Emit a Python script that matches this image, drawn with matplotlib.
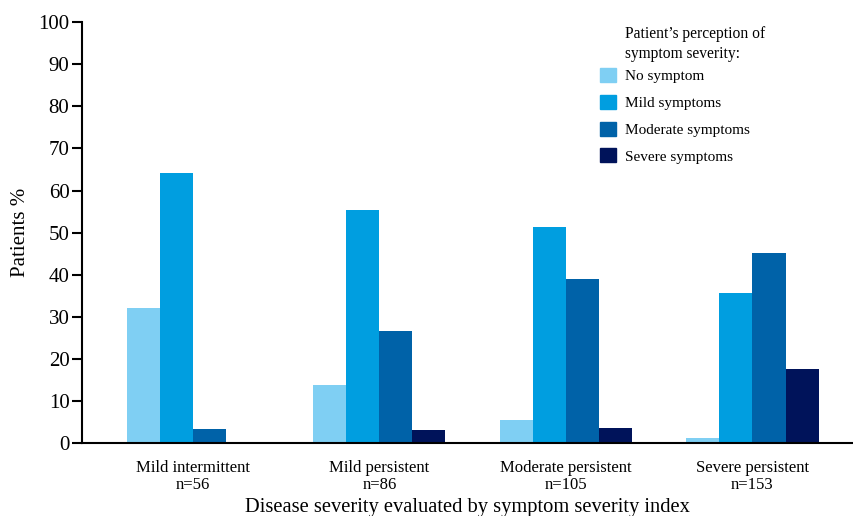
import numpy as np
from matplotlib import pyplot as plt
from matplotlib.patches import Patch

plt.rcParams['font.family'] = ['Liberation Serif', 'DejaVu Serif']

groups = ["Mild intermittent\nn=56", "Mild persistent\nn=86",
          "Moderate persistent\nn=105", "Severe persistent\nn=153"]
series = ["No symptom", "Mild symptoms", "Moderate symptoms", "Severe symptoms"]
no_symptom = [32.1, 13.8, 5.5, 1.2]
mild = [64.1, 55.3, 51.3, 35.6]
moderate = [3.3, 26.6, 39.0, 45.1]
severe = [0.0, 3.1, 3.6, 17.6]
colors = ["#7fcff3", "#009ee0", "#0062a8", "#00135a"]

fig = plt.figure(figsize=(8.54, 5.16), dpi=100)
ax = fig.add_axes([0.096, 0.1415, 0.902, 0.8155])

x = np.arange(len(groups))
w = 0.177
values = [no_symptom, mild, moderate, severe]
for i, (vals, c) in enumerate(zip(values, colors)):
    ax.bar(x + (i - 1.5) * w, vals, w, color=c, label=series[i])

ax.set_xlim(-0.594, 3.535)
ax.set_ylim(0, 100)
ax.set_yticks(range(0, 101, 10))
ax.set_xticks(x)
ax.set_xticklabels(groups, fontsize=12, linespacing=1.15)
ax.tick_params(axis='x', length=0, pad=12)
ax.tick_params(axis='y', length=7, width=1.5, labelsize=15, pad=2)
for s in ["top", "right"]:
    ax.spines[s].set_visible(False)
for s in ["left", "bottom"]:
    ax.spines[s].set_linewidth(1.5)
ax.set_ylabel("Patients %", fontsize=15, labelpad=6)
ax.set_xlabel("Disease severity evaluated by symptom severity index", fontsize=14.8, labelpad=3)

# legend: title drawn as separate text so it lines up with the labels
fig.text(625 / 854, (516 - 26) / 516, "Patient\u2019s perception of\nsymptom severity:",
         fontsize=11.2, va='top', ha='left', linespacing=1.3)
handles = [Patch(color=c) for c in colors]
ax.legend(handles, series, loc="upper left", bbox_to_anchor=(600 / 854, (516 - 68) / 516),
          bbox_transform=fig.transFigure, frameon=False, borderpad=0, borderaxespad=0,
          fontsize=11, handlelength=1.05, handleheight=1.05, handletextpad=0.6,
          labelspacing=0.75)

plt.savefig("out.png", dpi=100)
